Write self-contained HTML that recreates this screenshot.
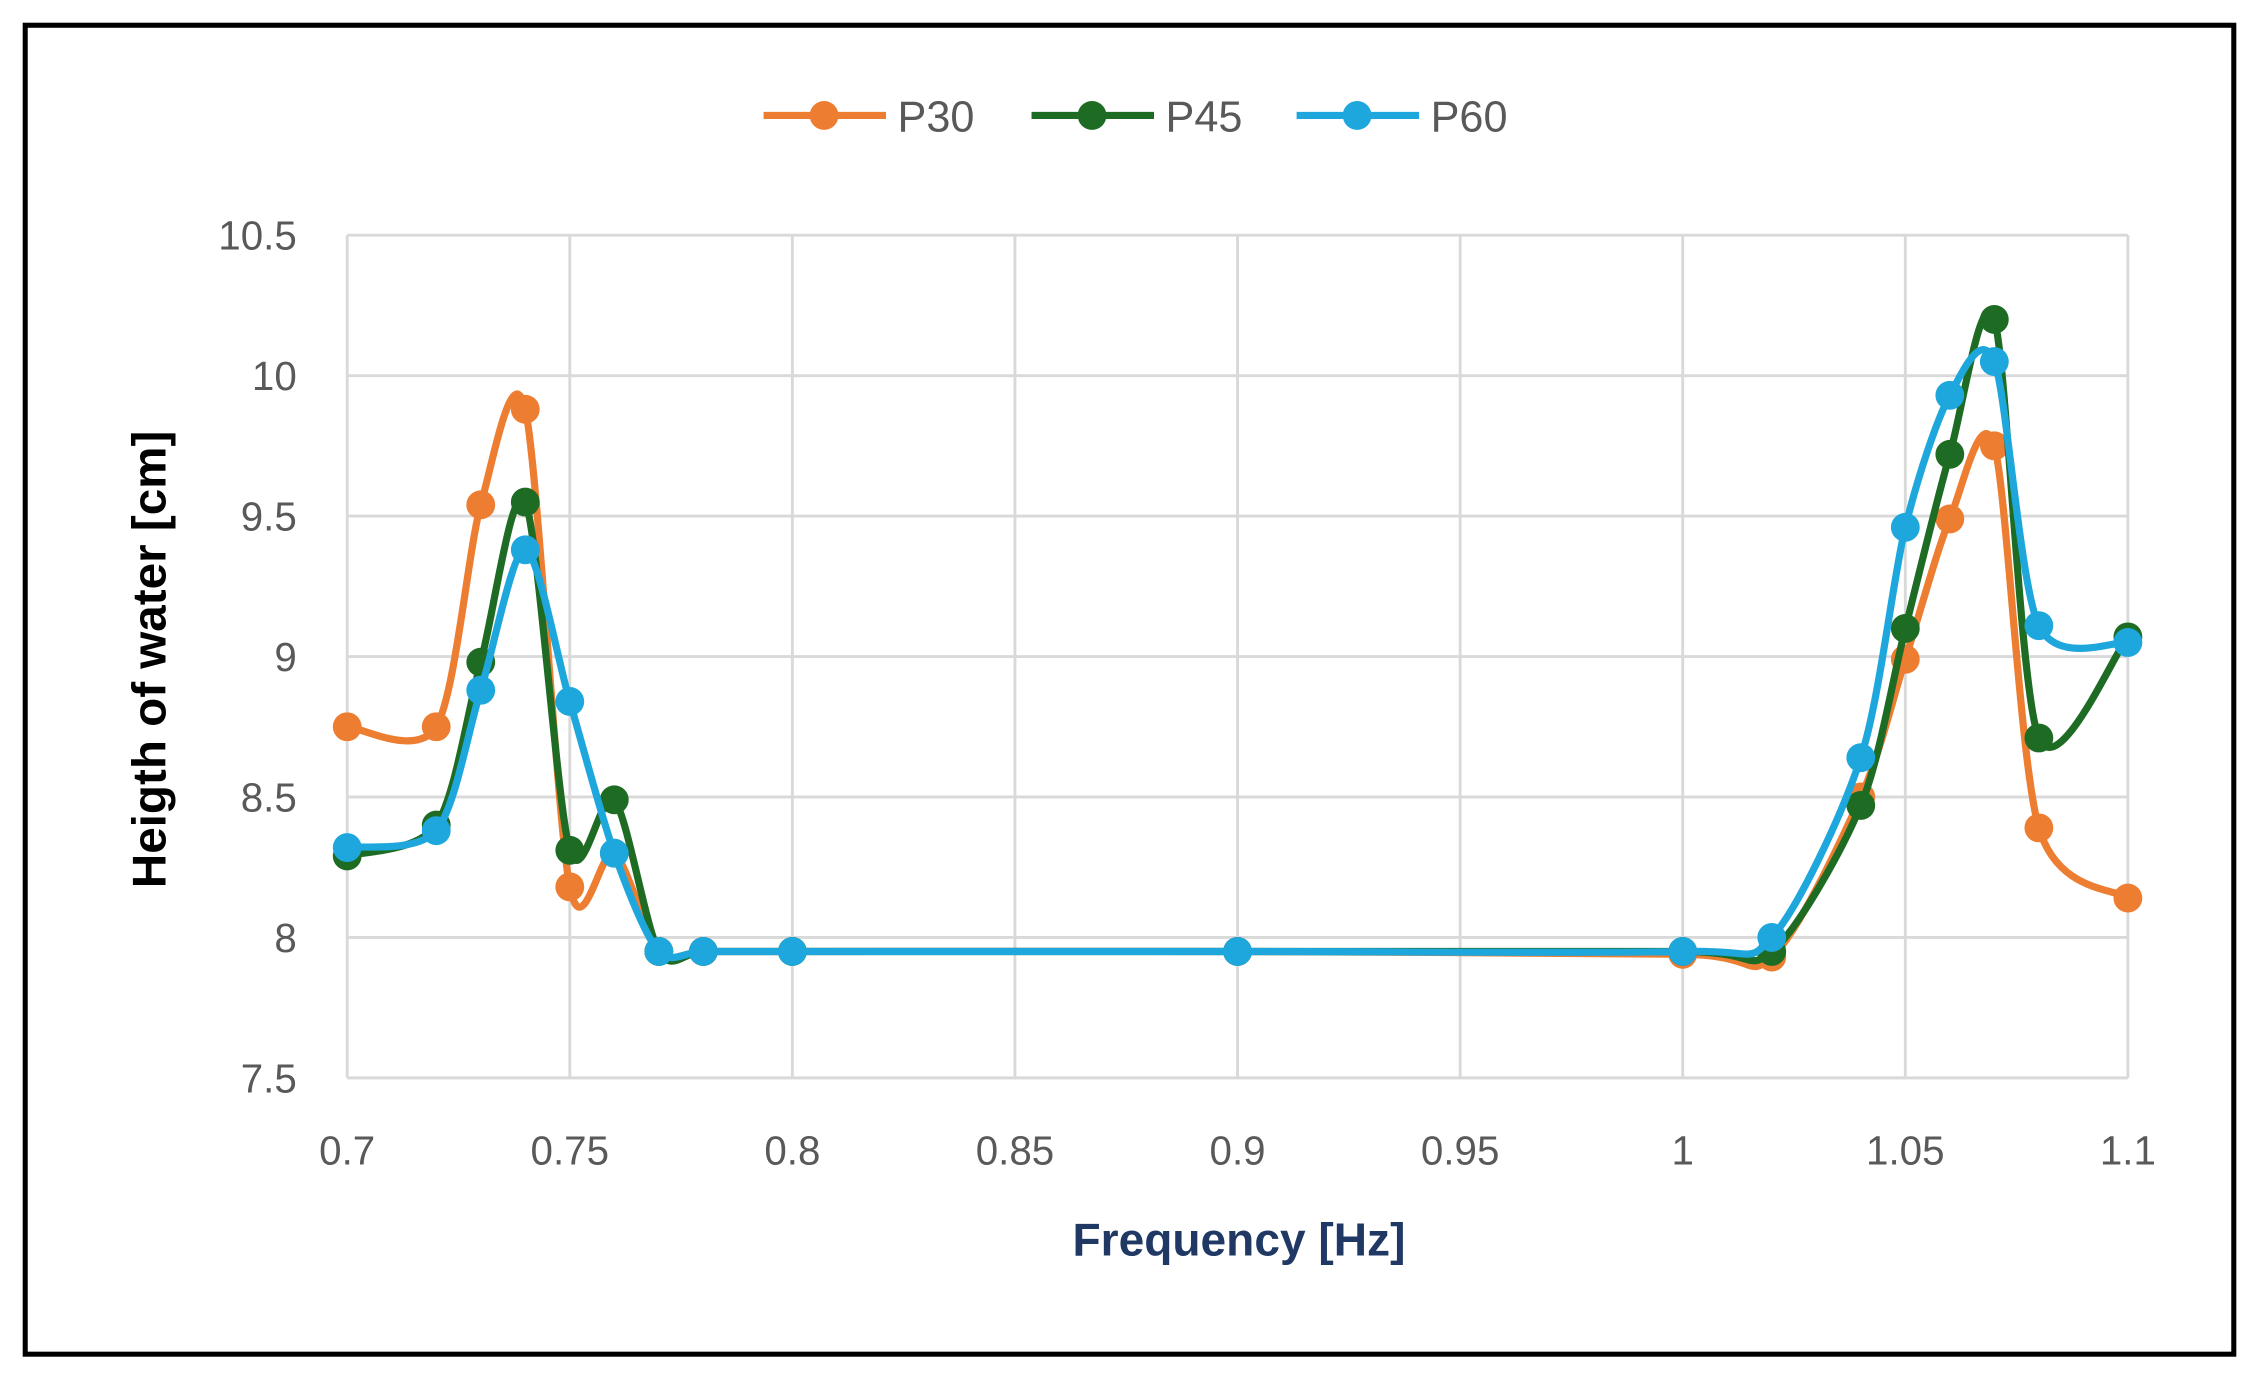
<!DOCTYPE html>
<html><head><meta charset="utf-8"><style>
html,body{margin:0;padding:0;background:#fff;}
svg{display:block;}
text{font-family:"Liberation Sans",sans-serif;}
</style></head><body>
<svg id="s" width="2259" height="1378" viewBox="0 0 1568 955" preserveAspectRatio="none" xmlns="http://www.w3.org/2000/svg">
<rect x="0" y="0" width="1568" height="955" fill="#fff"/>
<rect x="17.5" y="17.5" width="1533" height="921" fill="none" stroke="#000" stroke-width="3.5"/>
<g id="grid" stroke="#d9d9d9" stroke-width="2"></g>
<g id="ticks" fill="#595959" font-size="28"></g>
<text x="0" y="0" transform="translate(115,457) rotate(-90)" text-anchor="middle" font-size="33" font-weight="bold" fill="#000">Heigth of water [cm]</text>
<text x="860" y="870" text-anchor="middle" font-size="32" font-weight="bold" fill="#1f3864">Frequency [Hz]</text>
<g id="legend" font-size="30" fill="#595959"></g>
<g id="series"></g>
</svg>
<script>
const X=f=>241+(f-0.7)/0.4*1236, Y=v=>747-(v-7.5)/3*584;
const ns="http://www.w3.org/2000/svg";
function el(p,t,a,txt){const e=document.createElementNS(ns,t);for(const k in a)e.setAttribute(k,a[k]);if(txt!==undefined)e.textContent=txt;document.getElementById(p).appendChild(e);return e;}
for(let i=0;i<=6;i++){const v=7.5+i*0.5,y=Y(v);el("grid","line",{x1:241,x2:1477,y1:y,y2:y});el("ticks","text",{x:206,y:y+10,"text-anchor":"end"},String(v));}
for(let i=0;i<=8;i++){const f=0.7+i*0.05,x=X(f);el("grid","line",{x1:x,x2:x,y1:163,y2:747});el("ticks","text",{x:x,y:807,"text-anchor":"middle"},String(+f.toFixed(2)));}
const fx=[0.7,0.72,0.73,0.74,0.75,0.76,0.77,0.78,0.8,0.9,1.0,1.02,1.04,1.05,1.06,1.07,1.08,1.1];
const S=[
["#ed7d31",[8.75,8.75,9.54,9.88,8.18,8.3,7.95,7.95,7.95,7.95,7.94,7.93,8.5,8.99,9.49,9.75,8.39,8.14],"P30",530],
["#1e6b24",[8.29,8.4,8.98,9.55,8.31,8.49,7.95,7.95,7.95,7.95,7.95,7.95,8.47,9.1,9.72,10.2,8.71,9.07],"P45",716],
["#1ea7dd",[8.32,8.38,8.88,9.38,8.84,8.3,7.95,7.95,7.95,7.95,7.95,8.0,8.64,9.46,9.93,10.05,9.11,9.05],"P60",900]];
for(const [c,d,n,lx] of S){
 const p=fx.map((f,i)=>[X(f),Y(d[i])]);
 let s="M"+p[0][0]+","+p[0][1];
 for(let i=0;i<p.length-1;i++){const p0=p[i-1]||p[i],p1=p[i],p2=p[i+1],p3=p[i+2]||p[i+1];const t=7;
  s+=` C${p1[0]+(p2[0]-p0[0])/t},${p1[1]+(p2[1]-p0[1])/t} ${p2[0]-(p3[0]-p1[0])/t},${p2[1]-(p3[1]-p1[1])/t} ${p2[0]},${p2[1]}`;}
 el("series","path",{d:s,fill:"none",stroke:c,"stroke-width":5,"stroke-linejoin":"round"});
 for(const q of p)el("series","circle",{cx:q[0],cy:q[1],r:10,fill:c});
 el("legend","line",{x1:lx,x2:lx+85,y1:80,y2:80,stroke:c,"stroke-width":5});
 el("legend","circle",{cx:lx+42,cy:80,r:10,fill:c});
 el("legend","text",{x:lx+93,y:91},n);
}
</script>
</body></html>
